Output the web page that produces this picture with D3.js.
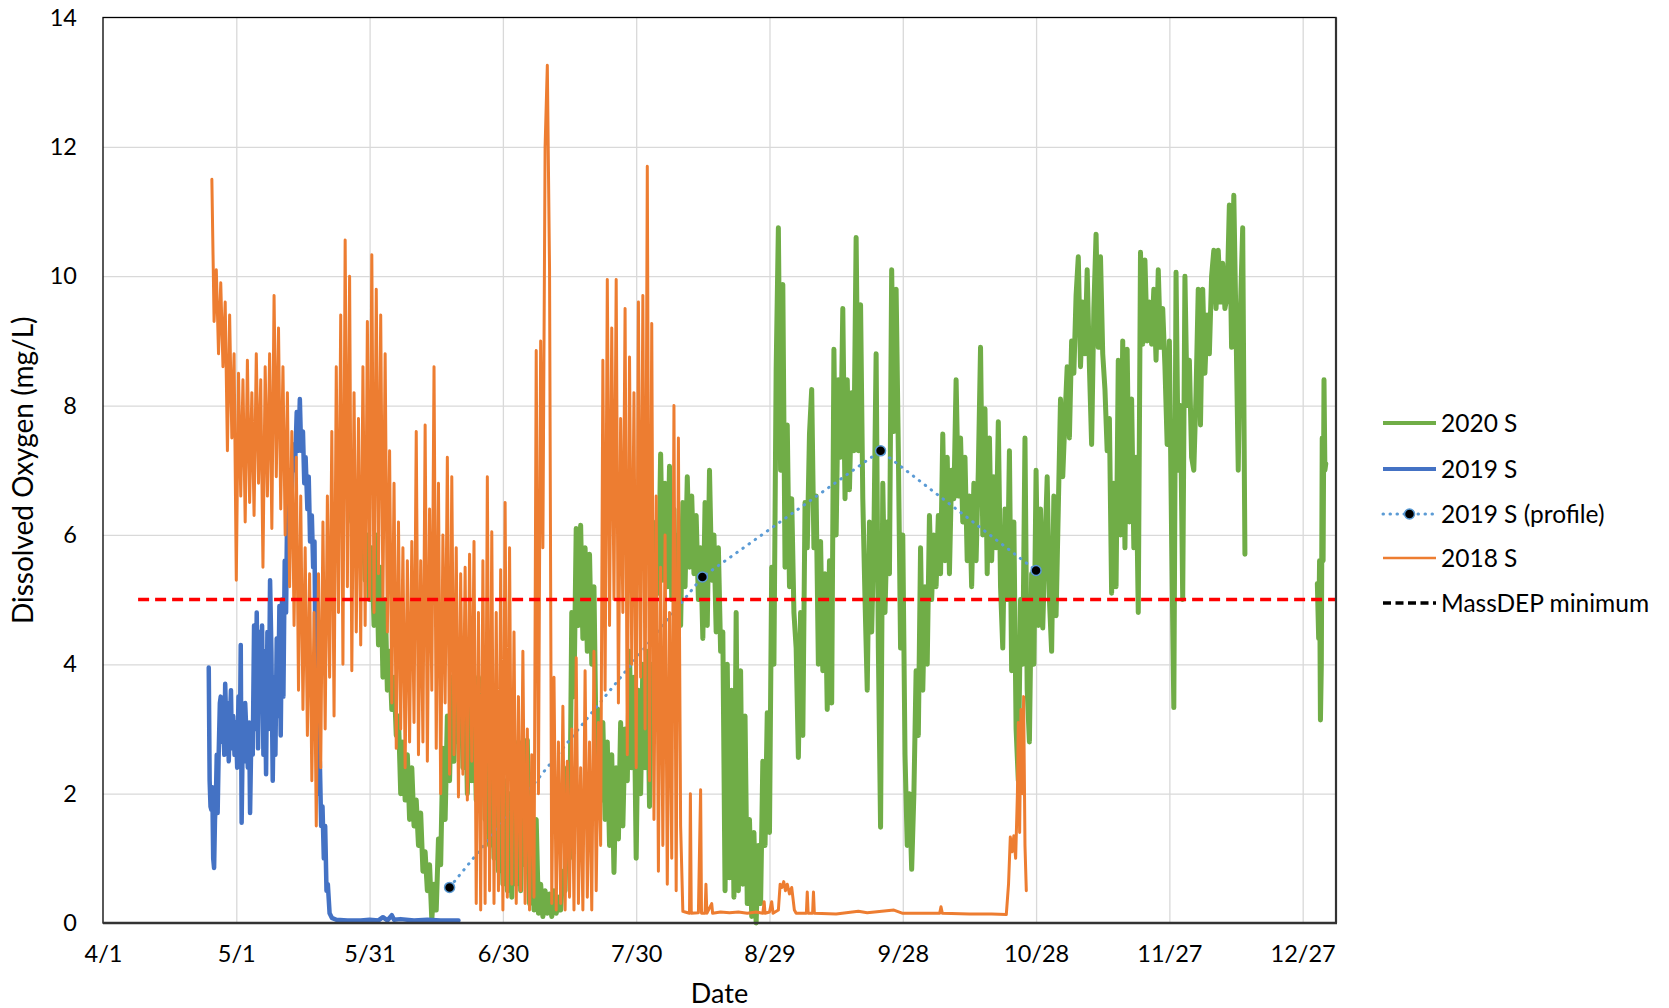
<!DOCTYPE html>
<html><head><meta charset="utf-8">
<script src="https://cdn.jsdelivr.net/npm/d3@7"></script>
<style>
body{margin:0;background:#fff;}
svg text{font-family:Lato,"Open Sans",sans-serif;fill:#000;}
</style></head><body>
<svg id="chart" width="1669" height="1008"></svg>
<script>
// ---------- DATA ----------
const tickDays   = [0,30,60,90,120,150,180,210,240,270];
const tickLabels = ["4/1","5/1","5/31","6/30","7/30","8/29","9/28","10/28","11/27","12/27"];
const yTicks     = [0,2,4,6,8,10,12,14];
const seriesNames = ["2020 S","2019 S","2019 S (profile)","2018 S","MassDEP minimum"];
const massDEPMinimum = 5;
const massDEPRange = [7.9, 277.5];

// 2020 S (days after 4/1, every half day)
const green2020Start = 55.5, green2020Step = 0.5;
const green2020Values = [
6.7,6.2,6.8,6.0,6.5,5.6,6.3,5.3,6.0,5.0,
5.8,4.6,6.0,4.3,5.5,3.8,5.0,3.6,4.2,3.3,
3.8,2.9,3.2,2.0,2.8,1.9,2.6,1.6,2.4,1.5,
1.9,1.2,1.7,0.8,1.1,0.5,0.9,0.05,0.6,0.2,
1.3,0.9,2.7,1.6,3.2,2.2,3.8,2.5,4.0,2.8,
4.4,2.4,3.9,2.0,3.9,2.2,3.6,1.9,3.8,2.0,
3.4,1.6,2.8,1.2,2.6,1.0,2.8,0.8,2.4,0.6,
2.2,0.5,2.0,0.4,2.6,0.6,2.8,0.5,2.8,0.9,
2.83,0.3,2.2,0.2,1.6,0.15,0.6,0.1,0.5,0.15,
0.45,0.1,0.5,0.15,0.4,0.2,0.8,0.5,2.4,1.0,
4.8,3.5,6.1,4.6,6.15,4.4,5.8,4.2,5.7,4.0,
5.2,2.6,3.3,1.9,3.1,1.6,2.8,1.2,2.6,0.78,
2.4,1.3,3.1,1.5,3.0,2.2,4.2,2.4,3.8,1.0,
3.6,2.0,4.0,2.4,4.2,1.8,4.0,3.0,6.2,5.1,
7.25,5.3,6.8,5.2,7.06,5.0,6.4,4.2,6.0,4.6,
6.5,5.2,6.9,5.5,6.6,5.4,6.3,5.0,5.8,4.4,
6.5,4.6,7.0,5.3,6.0,4.5,5.8,4.2,4.5,0.5,
4.0,0.7,3.6,0.4,4.8,0.5,3.9,0.6,3.2,0.3,
1.6,0.1,1.4,0.0,1.2,0.3,2.5,1.2,3.25,1.4,
5.5,4.0,8.56,10.75,7.0,9.87,5.5,7.7,5.2,6.56,
4.8,4.25,2.56,4.8,2.9,6.5,5.8,7.56,8.25,5.8,
6.6,4.0,5.9,3.9,5.4,3.3,5.6,3.4,8.87,6.0,
8.4,7.2,9.5,6.56,8.4,6.7,8.2,7.3,10.6,7.3,
9.56,6.56,5.0,3.6,6.2,4.5,6.0,8.8,4.25,1.48,
6.8,4.8,6.2,5.4,10.1,7.6,9.8,7.3,4.25,6.0,
2.6,1.2,2.0,0.83,2.0,3.9,2.9,5.8,3.6,5.2,
4.0,6.3,5.0,6.0,5.2,6.3,5.4,7.56,5.6,7.2,
5.4,7.0,6.56,8.4,6.6,7.5,6.2,7.2,5.6,6.6,
5.2,6.8,5.6,7.0,8.9,6.0,7.95,5.4,7.5,5.6,
6.9,5.8,7.75,5.2,4.25,6.4,5.0,7.3,3.9,6.2,
3.0,2.2,5.0,4.0,7.5,3.6,2.8,5.4,4.0,7.0,
4.6,6.4,4.56,5.8,6.9,5.0,4.2,6.6,4.75,6.4,
8.1,6.9,7.8,8.6,7.5,9.0,8.5,9.7,10.3,8.6,
9.6,8.8,10.1,8.6,7.4,9.5,10.65,8.9,10.3,8.8,
8.25,7.3,7.8,5.1,6.8,5.2,8.7,6.0,9.0,5.8,
8.87,6.2,8.1,5.8,7.2,4.8,10.37,8.95,10.25,9.0,
9.6,8.95,9.8,8.7,10.1,8.9,9.5,8.6,7.4,9.0,
6.0,3.33,10.06,7.0,8.0,5.0,10.0,8.0,8.7,7.2,
7.0,8.2,9.8,7.7,9.8,8.5,9.4,8.8,10.0,10.4,
9.5,10.4,9.6,10.2,9.5,9.7,11.1,8.9,11.25,9.2,
7.0,9.5,10.75,5.7
];
const green2020Late = [[273.3,5.25],[273.6,4.4],[273.8,5.6],[274.0,3.14],[274.2,4.0],[274.4,7.5],[274.6,5.6],[274.8,8.4],[275.0,7.0],[275.2,7.1]];

// 2019 S [day, mg/L]
const blue2019 = [
[23.8,3.95],[24.0,2.2],[24.2,1.8],[24.4,1.75],[24.6,2.1],[24.8,1.0],[25.0,0.85],[25.2,1.6],[25.4,1.9],[25.6,2.6],
[25.8,1.7],[26.0,2.5],[26.3,3.4],[26.5,3.5],[26.8,2.8],[27.0,3.3],[27.3,2.6],[27.5,3.7],[27.8,2.9],[28.0,3.4],
[28.3,2.5],[28.5,3.0],[28.8,3.6],[29.0,2.7],[29.3,3.2],[29.6,2.6],[29.9,3.1],[30.2,2.4],[30.5,3.5],[30.8,2.8],
[31.0,4.3],[31.2,1.55],[31.5,3.2],[31.8,2.5],[32.0,3.4],[32.3,2.9],[32.6,2.4],[32.9,3.1],[33.1,1.7],[33.4,3.0],
[33.7,2.6],[34.0,4.6],[34.3,3.0],[34.6,4.8],[34.9,2.7],[35.2,4.5],[35.5,3.4],[35.8,4.6],[36.1,2.6],[36.4,4.2],
[36.7,2.3],[37.0,4.5],[37.3,3.0],[37.6,5.3],[37.9,4.2],[38.2,2.2],[38.5,3.8],[38.8,2.6],[39.1,4.4],[39.4,3.2],
[39.7,4.9],[40.0,2.9],[40.3,5.0],[40.6,3.5],[40.9,5.6],[41.2,4.8],[41.5,6.7],[41.8,6.0],[42.1,7.0],[42.4,6.5],
[42.8,7.4],[43.2,7.0],[43.6,7.9],[44.0,7.3],[44.3,8.1],[44.6,7.3],[45.0,7.6],[45.3,6.8],[45.6,7.2],[46.0,6.4],
[46.3,6.9],[46.6,5.9],[47.0,6.3],[47.3,5.5],[47.6,5.9],[47.9,3.2],[48.2,4.4],[48.5,2.0],[48.8,2.5],[49.1,1.5],
[49.4,1.8],[49.7,1.0],[50.0,1.5],[50.3,0.5],[50.6,0.6],[51.0,0.15],[51.5,0.08],[52.5,0.05],[55,0.04],[58,0.04],
[60,0.05],[62,0.04],[63,0.09],[64,0.04],[65,0.12],[65.5,0.05],[67,0.06],[70,0.04],[73,0.05],[76,0.04],[80,0.04]
];

// 2019 S (profile) [day, mg/L]
const profile2019 = [[78.0,0.55],[134.9,5.35],[175.0,7.3],[210.0,5.45]];

// 2018 S (every half day, then sparse [day, mg/L])
const orange2018Start = 24.5, orange2018Step = 0.5;
const orange2018Values = [
11.5,9.3,10.1,8.8,9.9,8.6,9.6,7.3,9.4,7.5,
8.8,5.3,8.5,6.6,8.4,6.2,8.7,6.5,8.2,6.3,
8.8,6.8,8.4,5.5,8.6,6.6,8.8,6.1,9.7,6.9,
9.2,6.4,8.6,6.0,8.2,5.2,7.6,4.6,7.2,3.6,
6.6,3.3,5.8,2.9,5.4,2.2,4.8,1.5,5.4,2.4,
6.2,3.0,6.6,3.8,7.6,3.2,8.6,4.8,9.4,4.0,
10.56,5.2,10.0,3.9,8.2,4.5,7.8,4.3,8.6,4.6,
9.3,5.0,10.33,4.8,9.8,5.4,9.4,5.0,8.8,4.5,
7.3,3.4,6.8,2.7,6.2,3.0,5.8,2.4,5.6,2.8,
5.9,3.1,7.6,2.6,5.6,2.8,7.7,2.5,6.4,3.6,
8.6,2.7,6.8,2.0,6.0,3.4,7.2,2.3,6.9,2.6,
5.8,1.95,5.4,2.3,5.5,1.9,5.7,2.5,5.9,0.3,
4.8,0.2,5.6,0.3,6.9,0.5,6.05,0.3,4.8,0.5,
5.46,0.2,6.5,0.4,5.8,0.6,4.5,0.3,3.5,0.5,
4.2,0.3,3.0,0.2,2.6,0.4,8.85,2.0,9.0,5.8,
12.0,13.26,10.1,0.3,3.8,0.2,2.8,0.3,3.35,0.2,
2.5,0.4,3.0,0.2,4.1,0.3,2.4,0.2,3.9,0.4,
2.8,0.2,4.2,0.5,3.1,1.2,8.7,3.6,9.95,4.6,
9.2,5.0,9.95,3.4,7.8,4.8,9.5,2.6,8.75,4.0,
8.2,2.4,9.6,3.8,9.7,3.0,11.7,2.2,9.27,1.6,
6.6,0.8,5.5,1.2,6.0,0.6,4.8,1.0,8.0,0.5,
7.5,1.5,0.18
];
const orange2018Flat = [
[131,0.17],[132,0.15],[132.2,2.0],[132.4,0.15],[134,0.16],[134.5,2.06],[134.7,0.15],[135.5,0.15],[135.7,0.6],[135.9,0.15],
[137,0.3],[137.2,0.15],[139,0.17],[141,0.16],[143,0.17],[145,0.15],[147,0.17],[148.5,0.15],[148.8,0.33],[149,0.15],
[150,0.17],[150.5,0.33],[150.8,0.15],[152.0,0.2],[152.4,0.6],[152.8,0.55],[153.2,0.64],[153.6,0.5],[154,0.6],[154.5,0.45],
[155,0.55],[155.6,0.2],[156,0.15],[158.3,0.15],[158.5,0.48],[158.7,0.15],[159.7,0.15],[159.9,0.48],[160.1,0.15],[165,0.14],
[170,0.18],[172,0.16],[178,0.2],[180,0.15],[185,0.15],[188.3,0.15],[188.6,0.25],[188.9,0.15],[195,0.14],[200,0.14],
[203.3,0.13],[203.8,0.6],[204.2,1.33],[204.6,1.1],[205,1.35],[205.4,1.0],[205.8,2.0],[206.0,3.1],[206.3,1.4],[206.6,3.3],
[206.9,2.0],[207.2,3.5],[207.5,1.2],[207.8,0.5]
];

// ---------- CHART ----------
const plot = {left:103, right:1336, top:17.5, bottom:923};
const x = d3.scaleLinear().domain([0,277.5]).range([plot.left, plot.right]);
const y = d3.scaleLinear().domain([0,14]).range([plot.bottom, plot.top]);
const svg = d3.select('#chart');

const bySteps = (start, step, vals) => vals.map((v,i)=>[start+i*step, v]);
const greenMain = bySteps(green2020Start, green2020Step, green2020Values);
const orangeAll = bySteps(orange2018Start, orange2018Step, orange2018Values).concat(orange2018Flat);

// grid
svg.append('g').attr('transform',`translate(0,${plot.bottom})`)
  .call(d3.axisBottom(x).tickValues(tickDays.slice(1)).tickSize(-(plot.bottom-plot.top)).tickFormat(''))
  .call(g=>g.select('.domain').remove())
  .selectAll('line').attr('stroke','#d9d9d9').attr('stroke-width',1.3);
svg.append('g').attr('transform',`translate(${plot.left},0)`)
  .call(d3.axisLeft(y).tickValues(yTicks.slice(1,-1)).tickSize(-(plot.right-plot.left)).tickFormat(''))
  .call(g=>g.select('.domain').remove())
  .selectAll('line').attr('stroke','#d9d9d9').attr('stroke-width',1.3);

// tick labels
const xa = svg.append('g').attr('transform',`translate(0,${plot.bottom})`)
  .call(d3.axisBottom(x).tickValues(tickDays).tickSize(0).tickPadding(22).tickFormat((d,i)=>tickLabels[i]));
xa.select('.domain').remove();
xa.selectAll('text').attr('font-size',23.5).attr('font-family','Lato');
const ya = svg.append('g').attr('transform',`translate(${plot.left},0)`)
  .call(d3.axisLeft(y).tickValues(yTicks).tickSize(0).tickPadding(26));
ya.select('.domain').remove();
ya.selectAll('text').attr('font-size',23.5).attr('font-family','Lato');

// axis titles
svg.append('text').attr('x',(plot.left+plot.right)/2).attr('y',1003).attr('text-anchor','middle')
  .attr('font-size',27).text('Date');
svg.append('text').attr('transform',`translate(33,${(plot.top+plot.bottom)/2}) rotate(-90)`)
  .attr('text-anchor','middle').attr('font-size',28).text('Dissolved Oxygen (mg/L)');

const line = d3.line().x(d=>x(d[0])).y(d=>y(d[1]));
const g = svg.append('g');
function drawPath(data, color, width, extra){
  const p = g.append('path').datum(data).attr('d',line).attr('fill','none')
    .attr('stroke',color).attr('stroke-width',width).attr('stroke-linejoin','round').attr('stroke-linecap','round');
  if(extra) extra(p);
  return p;
}
drawPath(greenMain,'#70AD47',5);
drawPath(green2020Late,'#70AD47',5);
drawPath(blue2019,'#4472C4',4.5);
drawPath(profile2019,'#5B9BD5',3,p=>p.attr('stroke-dasharray','0.5,7'));
g.selectAll('circle.prof').data(profile2019).join('circle').attr('class','prof')
  .attr('cx',d=>x(d[0])).attr('cy',d=>y(d[1])).attr('r',5).attr('fill','#000')
  .attr('stroke','#5B9BD5').attr('stroke-width',1.5);
drawPath(orangeAll,'#ED7D31',3);
drawPath(massDEPRange.map(d=>[d,massDEPMinimum]),'#FF0000',3.5,p=>p.attr('stroke-dasharray','11,6').attr('stroke-linecap','butt'));

// plot border
svg.append('rect').attr('x',plot.left).attr('y',plot.top).attr('width',plot.right-plot.left)
  .attr('height',plot.bottom-plot.top).attr('fill','none').attr('stroke','#000').attr('stroke-width',1.3);
svg.append('line').attr('x1',plot.left).attr('x2',plot.right+1).attr('y1',plot.bottom).attr('y2',plot.bottom)
  .attr('stroke','#333').attr('stroke-width',2.4);
svg.append('line').attr('x1',plot.right).attr('x2',plot.right).attr('y1',plot.top).attr('y2',plot.bottom)
  .attr('stroke','#333').attr('stroke-width',2.2);

// legend
const legendRows = [423,469,514,558,603];
const lg = svg.append('g');
const lx0 = 1383, lx1 = 1436;
const legendStyles = [
  {c:'#70AD47',w:4},{c:'#4472C4',w:4},{c:'#5B9BD5',w:3,dash:'0.5,6.5',marker:true},{c:'#ED7D31',w:2.5},{c:'#000',w:3.5,dash:'8,4.5',cap:'butt'}
];
seriesNames.forEach((name,i)=>{
  const s = legendStyles[i], yy = legendRows[i];
  const l = lg.append('line').attr('x1',lx0).attr('x2',lx1).attr('y1',yy).attr('y2',yy)
    .attr('stroke',s.c).attr('stroke-width',s.w).attr('stroke-linecap',s.cap||(s.dash?'round':'butt'));
  if(s.dash) l.attr('stroke-dasharray',s.dash);
  if(s.marker) lg.append('circle').attr('cx',(lx0+lx1)/2).attr('cy',yy).attr('r',5).attr('fill','#000')
    .attr('stroke','#5B9BD5').attr('stroke-width',1.5);
  lg.append('text').attr('x',1441).attr('y',yy).attr('dy','0.36em').attr('font-size',24.5).text(name);
});
</script>
</body></html>
